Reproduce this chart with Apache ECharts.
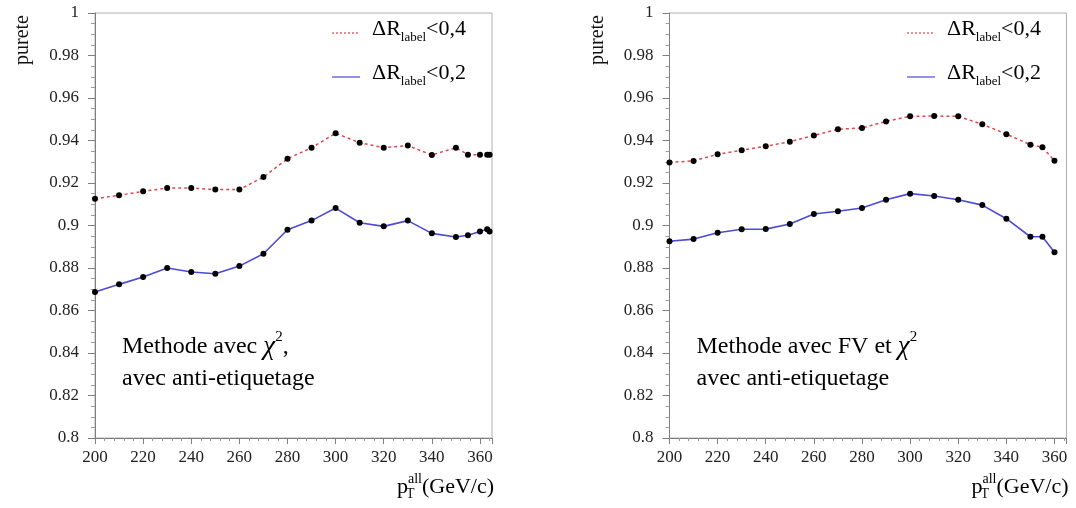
<!DOCTYPE html>
<html><head><meta charset="utf-8">
<script src="https://cdn.jsdelivr.net/npm/echarts@6/dist/echarts.min.js"></script>
<style>html,body{margin:0;padding:0;background:#fff}#c{width:1076px;height:508px}</style>
</head><body><div id="c"></div>
<script>
var xLeft   = [200,210,220,230,240,250,260,270,280,290,300,310,320,330,340,350,355,360,363,364];
var redLeft = [0.9126,0.9142,0.9161,0.9176,0.9176,0.9169,0.9169,0.9228,0.9314,0.9366,0.9434,0.9390,0.9366,0.9376,0.9332,0.9366,0.9333,0.9333,0.9333,0.9333];
var blueLeft= [0.8687,0.8723,0.8758,0.8800,0.8781,0.8773,0.8809,0.8867,0.8980,0.9023,0.9082,0.9013,0.8996,0.9023,0.8963,0.8946,0.8954,0.8972,0.8982,0.8972];
var xRight   = [200,210,220,230,240,250,260,270,280,290,300,310,320,330,340,350,355,360];
var redRight = [0.9297,0.9304,0.9335,0.9354,0.9373,0.9394,0.9424,0.9453,0.9459,0.9490,0.9514,0.9515,0.9514,0.9476,0.9430,0.9380,0.9368,0.9305];
var blueRight= [0.8926,0.8936,0.8966,0.8982,0.8983,0.9007,0.9054,0.9067,0.9082,0.9121,0.9150,0.9139,0.9121,0.9096,0.9032,0.8947,0.8947,0.8874];
var yTicks = {min:0.8, max:1, interval:0.02};
var xTicks = {min:200, max:365, interval:20};
var nameRed = 'ΔR_label<0,4', nameBlue = 'ΔR_label<0,2';

function pairs(xs, ys){ return xs.map(function(x,i){ return [x, ys[i]]; }); }
var FONT = 'Liberation Serif';
var RED = '#e0474c', BLUE = '#4b4bd6';

function xAxis(idx){
  return {type:'value', gridIndex:idx, min:xTicks.min, max:xTicks.max, interval:xTicks.interval,
    axisLine:{show:true, lineStyle:{color:'#7f7f7f', width:1}},
    axisTick:{show:true, inside:false, length:6, lineStyle:{color:'#7f7f7f'}},
    minorTick:{show:true, splitNumber:5, length:3, lineStyle:{color:'#9a9a9a'}},
    splitLine:{show:false},
    axisLabel:{show:true, showMaxLabel:false, margin:11, fontFamily:FONT, fontSize:17, color:'#222'}};
}
function yAxis(idx){
  return {type:'value', gridIndex:idx, min:yTicks.min, max:yTicks.max, interval:yTicks.interval,
    axisLine:{show:true, lineStyle:{color:'#7f7f7f', width:1}},
    axisTick:{show:true, inside:false, length:7, lineStyle:{color:'#7f7f7f'}},
    minorTick:{show:true, splitNumber:4, length:4, lineStyle:{color:'#9a9a9a'}},
    splitLine:{show:false},
    axisLabel:{show:true, margin:16, fontFamily:FONT, fontSize:17, color:'#222'}};
}
function series(name, idx, xs, ys, color, dashed){
  return {name:name, type:'line', xAxisIndex:idx, yAxisIndex:idx, data:pairs(xs, ys),
    symbol:'circle', symbolSize:6, itemStyle:{color:'#000'},
    lineStyle:{color:color, width:dashed?1.5:1.6, type:dashed?[3,3]:'solid'},
    emphasis:{disabled:true}, animation:false, z:3};
}

var richBase = {
  m:{fontFamily:FONT, fontSize:22, color:'#111', lineHeight:30, verticalAlign:'middle'},
  a:{fontFamily:FONT, fontSize:24, color:'#111', lineHeight:32, verticalAlign:'middle'},
  chi:{fontFamily:FONT, fontSize:27, fontStyle:'italic', color:'#111', lineHeight:32, verticalAlign:'middle'},
  sub:{fontFamily:FONT, fontSize:13, color:'#111', lineHeight:30, verticalAlign:'bottom'},
  sup:{fontFamily:FONT, fontSize:14, color:'#111', lineHeight:30, verticalAlign:'top'},
  sup2:{fontFamily:FONT, fontSize:15, color:'#111', lineHeight:34, verticalAlign:'top'}
};
function legendEntry(x, y, color, dashed, label){
  return [
    {type:'line', shape:{x1:x, y1:y, x2:x+28, y2:y}, style:{stroke:color, lineWidth:1.2, lineDash:dashed?[2,2]:null}, silent:true},
    {type:'text', x:x+40, y:y-4, style:{text:'{m|ΔR}{sub|label}{m|'+label+'}', rich:richBase, verticalAlign:'middle'}, silent:true}
  ];
}
function panelTexts(ox, line1){
  var g = [];
  g.push({type:'text', x:ox-72, y:40, rotation:Math.PI/2, style:{text:'purete', fontFamily:FONT, fontSize:20, fill:'#111', align:'center', verticalAlign:'middle'}, silent:true});
  g.push({type:'text', x:ox+27, y:347, style:{text:line1, rich:richBase, verticalAlign:'middle'}, silent:true});
  g.push({type:'text', x:ox+27, y:379, style:{text:'{a|avec anti-etiquetage}', rich:richBase, verticalAlign:'middle'}, silent:true});
  g.push({type:'text', x:ox+302, y:487, style:{text:'{m|p}{sup|all}{m|(GeV/c)}', rich:richBase, verticalAlign:'middle'}, silent:true});
  g.push({type:'text', x:ox+311, y:494, style:{text:'T', fontFamily:FONT, fontSize:14, fill:'#111', verticalAlign:'middle'}, silent:true});
  return g;
}

var graphic = [].concat(
  legendEntry(332, 33, RED, true, '<0,4'),
  legendEntry(332, 77, BLUE, false, '<0,2'),
  legendEntry(907, 33, RED, true, '<0,4'),
  legendEntry(907, 77, BLUE, false, '<0,2'),
  panelTexts(95, '{a|Methode avec }{chi|χ}{sup2|2}{a|,}'),
  panelTexts(669.5, '{a|Methode avec FV et }{chi|χ}{sup2|2}')
);

var chart = echarts.init(document.getElementById('c'), null, {renderer:'canvas'});
chart.setOption({
  animation:false,
  backgroundColor:'#fff',
  grid:[
    {left:95, top:13, width:397, height:425, show:true, borderColor:'#b0b0b0', borderWidth:1},
    {left:669.5, top:13, width:397, height:425, show:true, borderColor:'#b0b0b0', borderWidth:1}
  ],
  xAxis:[xAxis(0), xAxis(1)],
  yAxis:[yAxis(0), yAxis(1)],
  series:[
    series(nameRed, 0, xLeft, redLeft, RED, true),
    series(nameBlue, 0, xLeft, blueLeft, BLUE, false),
    series(nameRed, 1, xRight, redRight, RED, true),
    series(nameBlue, 1, xRight, blueRight, BLUE, false)
  ],
  graphic: graphic
});
</script>
</body></html>
